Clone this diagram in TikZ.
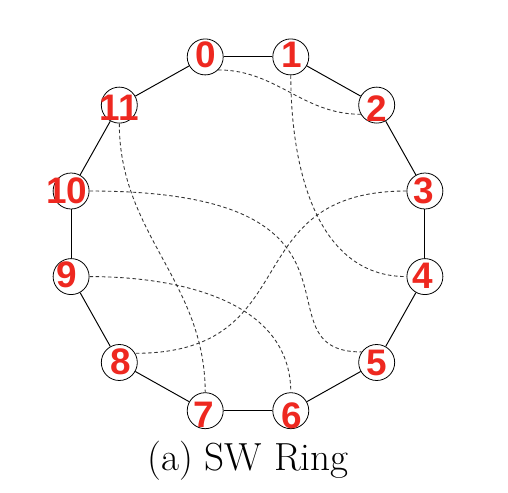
\documentclass[tikz,border=0pt]{standalone}
\usepackage{fontspec}
\newfontfamily\labelfont{Liberation Sans}
\definecolor{labelred}{RGB}{238,40,32}
\tikzset{ringnode/.style={draw,circle,fill=white,minimum size=0.72cm,inner sep=0pt,line width=0.45pt},
	numlabel/.style={text=labelred,font=\labelfont\bfseries\fontsize{21}{21}\selectfont,inner sep=0pt},
	shortcut/.style={dash pattern=on 2pt off 1.5pt,line width=0.5pt,black!80}}
\begin{document}
\begin{tikzpicture}
	\useasboundingbox (-4.96,-5.164) rectangle (5.2,4.676);
	\foreach \i/\a in {0/103.6,1/76.4,2/45,3/13.6,4/-13.6,5/-45,6/-76.4,7/-103.6,8/-135,9/-166.4,10/166.4,11/135}
		\node[ringnode] (n\i) at (\a:3.64) {};
	\foreach \i/\j in {0/1,1/2,2/3,3/4,4/5,5/6,6/7,7/8,8/9,9/10,10/11,11/0}
		\draw[line width=0.55pt] (n\i)--(n\j);
	\draw[shortcut] (n0.south east) to[out=0,in=180] (n2.210);
	\draw[shortcut] (n1.south) to[out=-90,in=180] (n4.west);
	\draw[shortcut] (n3.west) to[out=180,in=0,looseness=1.4] (n8.30);
	\draw[shortcut] (n10.east) to[out=0,in=180,out looseness=2.5,in looseness=0.9] (n5.145);
	\draw[shortcut] (n9.east) to[out=0,in=90] (n6.north);
	\draw[shortcut] (n11.south) to[out=-90,in=90] (n7.north);
	\foreach \i/\dx/\dy in {0/1/2,1/1/2,2/0/-4,3/-1.5/0,4/-2/1,5/0/0,6/1/-5,7/-1/-4,8/1/1,9/-4/1.7,10/-4.5/0,11/0/-2.7}
		\node[numlabel,xshift=\dx*0.02cm,yshift=\dy*0.02cm] (l\i) at (n\i) {\i};
	\node[font=\fontsize{22.3}{26}\selectfont,anchor=base] (caption) at (0,-4.724) {(a) SW Ring};
\end{tikzpicture}
\end{document}
